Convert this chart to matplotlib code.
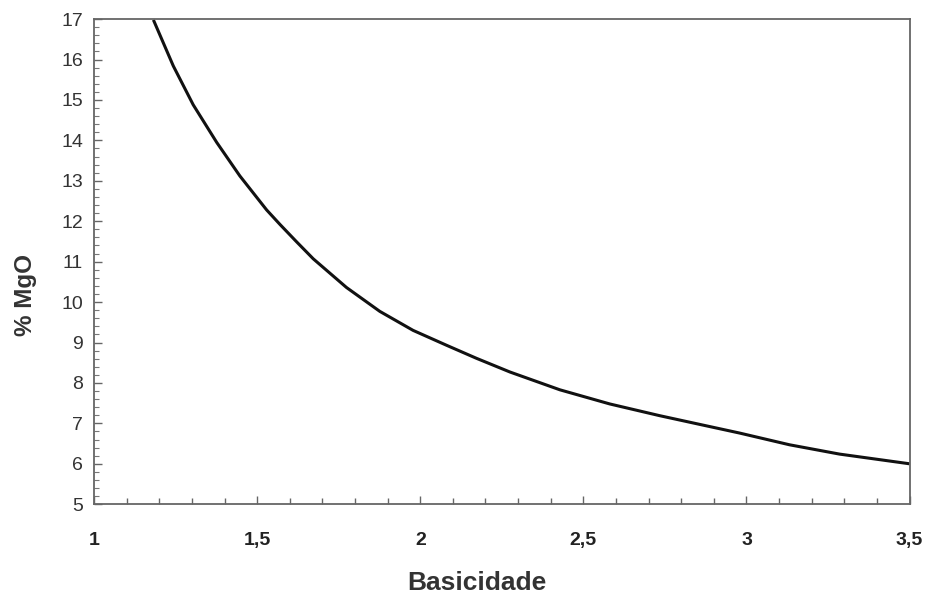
import matplotlib.pyplot as plt
from matplotlib.ticker import MultipleLocator, FuncFormatter

# curve
basicidade = [1.182, 1.243, 1.304, 1.376, 1.447, 1.529, 1.570, 1.621,
              1.672, 1.774, 1.876, 1.978, 2.081, 2.172, 2.275, 2.428,
              2.581, 2.734, 2.882, 2.979, 3.132, 3.285, 3.5]
mgo = [16.98, 15.84, 14.88, 13.95, 13.12, 12.28, 11.92, 11.49,
       11.07, 10.36, 9.77, 9.30, 8.93, 8.61, 8.27, 7.83,
       7.48, 7.19, 6.93, 6.76, 6.47, 6.24, 6.0]

x_ticks = [1, 1.5, 2, 2.5, 3, 3.5]
y_ticks = list(range(5, 18))

plt.rcParams['font.family'] = ['Liberation Sans', 'DejaVu Sans']

fig = plt.figure(figsize=(9.31, 5.96), dpi=100)
ax = fig.add_axes([0.101, 0.154, 0.876, 0.814])

ax.plot(basicidade, mgo, color='#111111', linewidth=2.2,
        solid_joinstyle='round', solid_capstyle='butt')

ax.set_xlim(1, 3.5)
ax.set_ylim(5, 17)
ax.set_xticks(x_ticks)
ax.set_yticks(y_ticks)
ax.xaxis.set_minor_locator(MultipleLocator(0.1))
ax.yaxis.set_minor_locator(MultipleLocator(0.2))

comma = FuncFormatter(lambda v, p: ('%g' % v).replace('.', ','))
ax.xaxis.set_major_formatter(comma)

for side in ax.spines.values():
    side.set_color('#666666')
    side.set_linewidth(1.3)

ax.tick_params(axis='x', which='major', direction='in', length=6, width=1,
               color='#666666', pad=20, labelsize=14, labelcolor='#222222')
ax.tick_params(axis='x', which='minor', direction='in', length=4, width=1,
               color='#666666')
ax.tick_params(axis='y', which='major', direction='in', length=6, width=1,
               color='#666666', pad=8, labelsize=14, labelcolor='#333333')
ax.tick_params(axis='y', which='minor', direction='in', length=3.5, width=0.8,
               color='#777777')
for lab in ax.get_xticklabels():
    lab.set_fontweight('bold')

fig.text(0.512, 0.022, 'Basicidade', fontsize=19, fontweight='bold',
         color='#333333', ha='center', va='center')
fig.text(0.027, 0.505, '% MgO', fontsize=17.5, fontweight='bold',
         color='#333333', ha='center', va='center', rotation=90)

fig.savefig('out.png', dpi=100, facecolor='white')
